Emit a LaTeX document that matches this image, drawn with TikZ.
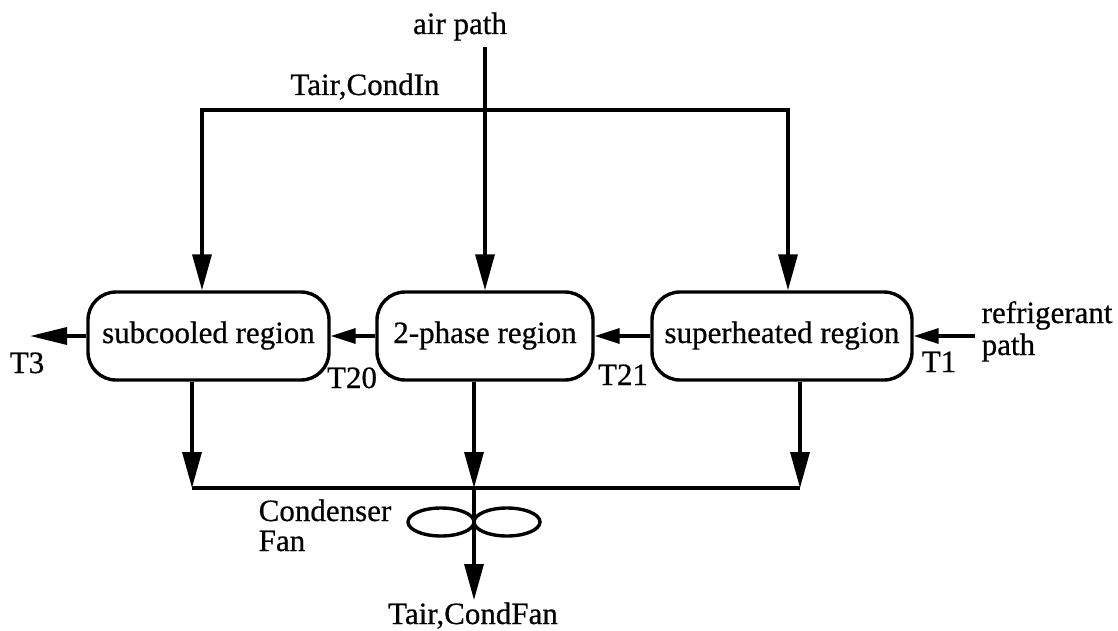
\documentclass[tikz,border=0pt]{standalone}
\usepackage{fontspec}
\setmainfont{Liberation Serif}[FakeBold=0.6]
\usetikzlibrary{arrows.meta,shapes.geometric}
\begin{document}
\begin{tikzpicture}[x=1pt,y=-1pt,line width=3.4pt,
  every node/.style={font=\fontsize{31}{32}\selectfont,inner sep=0pt},
  region/.style={draw,rounded corners=28pt,minimum height=88pt,
    text height=21pt,text depth=7pt},
  lbl/.style={anchor=base},
  bigtip/.style={-{Triangle[length=36pt,width=19pt]}},
  outtip/.style={-{Triangle[length=37pt,width=17pt]}},
  smalltip/.style={-{Triangle[length=25pt,width=15pt]}},
  fanblade/.style={draw,ellipse,minimum width=66pt,minimum height=28pt}]
\useasboundingbox (0,0) rectangle (1118,631);

% the three heat-exchanger regions
\node[region,minimum width=241pt] (sc) at (208.5,336) {subcooled region};
\node[region,minimum width=216pt] (tp) at (485,336) {2-phase region};
\node[region,minimum width=260pt] (sh) at (782,336) {superheated region};

% air supply and its split to the regions
\coordinate (airtop) at (485,47);
\coordinate (split)  at (485,110);
\coordinate (splitL) at (202,110);
\coordinate (splitR) at (788,110);
\draw[bigtip] (airtop) -- (tp.north);
\draw[bigtip] (split) -| (sc.north -| splitL);
\draw[bigtip] (split) -| (sh.north -| splitR);

% refrigerant flow through the regions
\coordinate (refin)  at (975,336);
\coordinate (t3end)  at (30,336);
\draw[smalltip] (refin) -- (sh.east);
\draw[smalltip] (sh.west) -- (tp.east);
\draw[smalltip] (tp.west) -- (sc.east);
\draw[outtip] (sc.west) -- (t3end);

% air leaving the regions, collected by the condenser fan
\coordinate (busL) at (192,488);
\coordinate (busM) at (474,488);
\coordinate (busR) at (800,488);
\coordinate (fanout) at (474,600);
\draw[bigtip] (sc.south -| busL) -- (busL);
\draw[bigtip] (tp.south -| busM) -- (busM);
\draw[bigtip] (sh.south -| busR) -- (busR);
\draw (busL) -- (busR);
\node[fanblade] (fanL) at (441,522) {};
\node[fanblade] (fanR) at (507,522) {};
\draw[bigtip] (busM) -- (fanout);

% labels
\node[lbl] (airlbl) at (460,34) {air path};
\node[lbl] (inlbl) at (365,95) {Tair,CondIn};
\node[lbl] (t3) at (27,373) {T3};
\node[lbl] (t20) at (352,388) {T20};
\node[lbl] (t21) at (623,385) {T21};
\node[lbl] (t1) at (939,372) {T1};
\node[anchor=base west] (ref1) at (980,323) {refrigerant};
\node[anchor=base west] (ref2) at (980,355) {path};
\node[anchor=base west] (fan1) at (257,521) {Condenser};
\node[anchor=base west] (fan2) at (257,551) {Fan};
\node[lbl] (outlbl) at (473,624) {Tair,CondFan};
\end{tikzpicture}
\end{document}
